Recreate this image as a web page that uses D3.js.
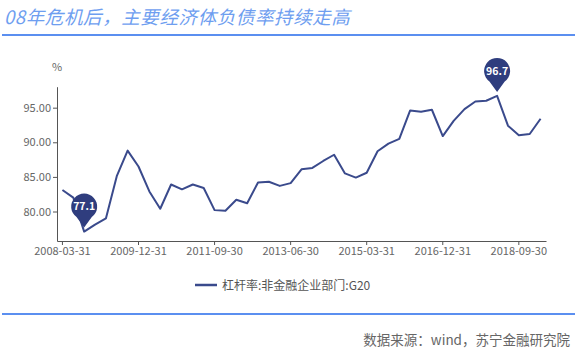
<!DOCTYPE html>
<html>
<head>
<meta charset="utf-8">
<script src="https://cdn.jsdelivr.net/npm/d3@7"></script>
<style>
  body { margin: 0; background: #fff; }
  svg text { font-family: "Noto Sans CJK SC", "Noto Sans", sans-serif; }
</style>
</head>
<body>
<svg id="chart" width="575" height="349"></svg>
<script>
// quarterly dates 2008-03-31 .. 2019-03-31
var dates = ["2008-03-31","2008-06-30","2008-09-30","2008-12-31",
  "2009-03-31","2009-06-30","2009-09-30","2009-12-31",
  "2010-03-31","2010-06-30","2010-09-30","2010-12-31",
  "2011-03-31","2011-06-30","2011-09-30","2011-12-31",
  "2012-03-31","2012-06-30","2012-09-30","2012-12-31",
  "2013-03-31","2013-06-30","2013-09-30","2013-12-31",
  "2014-03-31","2014-06-30","2014-09-30","2014-12-31",
  "2015-03-31","2015-06-30","2015-09-30","2015-12-31",
  "2016-03-31","2016-06-30","2016-09-30","2016-12-31",
  "2017-03-31","2017-06-30","2017-09-30","2017-12-31",
  "2018-03-31","2018-06-30","2018-09-30","2018-12-31",
  "2019-03-31"];

var values = [83.1, 82.0, 77.1, 78.1, 79.0, 85.1, 88.8, 86.5, 82.9, 80.4,
  83.9, 83.2, 83.9, 83.4, 80.2, 80.1, 81.7, 81.2, 84.2, 84.3,
  83.7, 84.1, 86.1, 86.3, 87.3, 88.2, 85.5, 84.9, 85.6, 88.7,
  89.8, 90.5, 94.6, 94.4, 94.7, 90.9, 93.1, 94.8, 95.9, 96.0,
  96.7, 92.4, 91.0, 91.2, 93.4];

var xTicks = ["2008-03-31","2009-12-31","2011-09-30","2013-06-30",
  "2015-03-31","2016-12-31","2018-09-30"];
var yTicks = [80, 85, 90, 95];

// pins: min and max labels
var pins = [{date: "2008-09-30", label: "77.1"}, {date: "2018-03-31", label: "96.7"}];

var title = "08年危机后，主要经济体负债率持续走高";
var seriesName = "杠杆率:非金融企业部门:G20";
var source = "数据来源：wind，苏宁金融研究院";

var svg = d3.select("#chart");
var lineColor = "#3a4a8c";
var pinColor = "#2f3d7e";

// title + separators
svg.append("text")
  .attr("x", 4).attr("y", 24)
  .attr("font-size", 18.5)
  .attr("font-style", "italic")
  .attr("letter-spacing", 0.6)
  .attr("fill", "#6e9ef0")
  .text(title);

svg.append("line")
  .attr("x1", 2).attr("x2", 575).attr("y1", 35).attr("y2", 35)
  .attr("stroke", "#5b8ff0").attr("stroke-width", 2);

svg.append("line")
  .attr("x1", 2).attr("x2", 575).attr("y1", 314).attr("y2", 314)
  .attr("stroke", "#5b8ff0").attr("stroke-width", 2);

svg.append("text")
  .attr("x", 570).attr("y", 345)
  .attr("text-anchor", "end")
  .attr("font-size", 13.5)
  .attr("fill", "#666")
  .text(source);

var x = d3.scaleBand()
  .domain(dates)
  .range([57, 546]);

var y = d3.scaleLinear()
  .domain([75.74, 98.03])
  .range([241, 86.7]);

function cx(d) { return x(d) + x.bandwidth() / 2; }

// axes
var xAxis = svg.append("g")
  .attr("transform", "translate(0,241)")
  .call(d3.axisBottom(x).tickValues(xTicks).tickSize(4).tickSizeOuter(0).tickPadding(2));

var yAxis = svg.append("g")
  .attr("transform", "translate(57,0)")
  .call(d3.axisLeft(y).tickValues(yTicks).tickSize(4).tickSizeOuter(0)
    .tickFormat(d3.format(".2f")).tickPadding(2));

[xAxis, yAxis].forEach(function (g) {
  g.select(".domain").attr("stroke", "#555");
  g.selectAll(".tick line").attr("stroke", "#555");
  g.selectAll(".tick text")
    .attr("fill", "#666")
    .attr("font-size", 11)
    .style("font-family", "'Noto Sans CJK SC', 'Noto Sans', sans-serif");
});

svg.append("text")
  .attr("x", 57).attr("y", 71)
  .attr("text-anchor", "middle")
  .attr("font-size", 11)
  .attr("fill", "#666")
  .text("%");

// main line
svg.append("path")
  .attr("fill", "none")
  .attr("stroke", lineColor)
  .attr("stroke-width", 2)
  .attr("stroke-linejoin", "round")
  .attr("d", d3.line()
    .x(function (d, i) { return cx(dates[i]); })
    .y(function (d) { return y(d); })(values));

// pins
var pinR = 13;
pins.forEach(function (p) {
  var px = cx(p.date);
  var py = y(values[dates.indexOf(p.date)]) - 4;
  var cyy = py - 21;
  var g = svg.append("g");
  // balloon shape: circle with a pointed tail down to the data point
  var a = Math.PI / 5;
  var path = d3.path();
  path.moveTo(px, py);
  path.lineTo(px - pinR * Math.sin(a), cyy + pinR * Math.cos(a));
  path.arc(px, cyy, pinR, Math.PI / 2 + a, Math.PI / 2 - a + 2 * Math.PI);
  path.closePath();
  g.append("path")
    .attr("d", path.toString())
    .attr("fill", pinColor);
  g.append("text")
    .attr("x", px).attr("y", cyy + 3.8)
    .attr("text-anchor", "middle")
    .attr("font-size", 10.5)
    .attr("font-weight", 600)
    .attr("fill", "#fff")
    .text(p.label);
});

// legend
svg.append("line")
  .attr("x1", 195).attr("x2", 217).attr("y1", 285).attr("y2", 285)
  .attr("stroke", lineColor).attr("stroke-width", 2.5);

svg.append("text")
  .attr("x", 222).attr("y", 289.5)
  .attr("font-size", 12)
  .attr("fill", "#555")
  .text(seriesName);
</script>
</body>
</html>
